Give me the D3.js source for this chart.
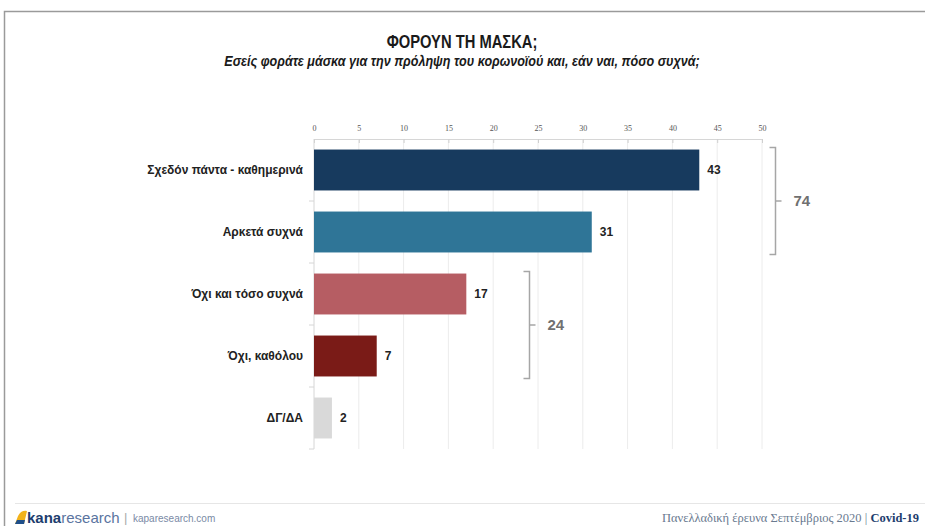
<!DOCTYPE html>
<html>
<head>
<meta charset="utf-8">
<script src="https://cdn.jsdelivr.net/npm/d3@7"></script>
<style>
  html, body { margin: 0; padding: 0; background: #fff; }
  svg { display: block; }
</style>
</head>
<body>
<div id="chart"></div>
<script>
// Mask usage — horizontal bar chart
const categories = ['Σχεδόν πάντα - καθημερινά', 'Αρκετά συχνά', 'Όχι και τόσο συχνά', 'Όχι, καθόλου', 'ΔΓ/ΔΑ'];
const values = [43, 31, 17, 7, 2];
const barColors = ['#173a5e', '#2f7597', '#b65d63', '#7a1b17', '#d9d9d9'];
const xTicks = [0, 5, 10, 15, 20, 25, 30, 35, 40, 45, 50];
// bracket groups: first/last category index and the group total
const groups = [
  {from: 0, to: 1, total: 74, at: 51.5},
  {from: 2, to: 3, total: 24, at: 24}
];
const title = 'ΦΟΡΟΥΝ ΤΗ ΜΑΣΚΑ;';
const subtitle = 'Εσείς φοράτε μάσκα για την πρόληψη του κορωνοϊού και, εάν ναι, πόσο συχνά;';
const footerRight = 'Πανελλαδική έρευνα Σεπτέμβριος 2020';

(function(){
  const width = 925, height = 526;
  const svg = d3.select('#chart').append('svg')
    .attr('width', width)
    .attr('height', height);

  const sans = '"Liberation Sans", Arial, sans-serif';
  const serif = '"Liberation Serif", "DejaVu Serif", serif';

  // frame
  svg.append('path')
    .attr('d', `M4.5,${height} L4.5,11.5 L${width},11.5`)
    .attr('fill', 'none')
    .attr('stroke', '#9a9a9a')
    .attr('stroke-width', 1.5);

  // titles (condensed look via horizontal scale)
  svg.append('text')
    .attr('transform', 'translate(462,48) scale(0.82,1)')
    .attr('text-anchor', 'middle')
    .attr('font-family', sans)
    .attr('font-weight', 'bold')
    .attr('font-size', '18px')
    .attr('fill', '#1a1a1a')
    .text(title);
  svg.append('text')
    .attr('transform', 'translate(462,66) scale(0.9,1)')
    .attr('text-anchor', 'middle')
    .attr('font-family', sans)
    .attr('font-weight', 'bold')
    .attr('font-style', 'italic')
    .attr('font-size', '14px')
    .attr('fill', '#1a1a1a')
    .text(subtitle);

  const left = 314, right = 762, top = 139, bottom = 449;
  const x = d3.scaleLinear().domain([0, 50]).range([left, right]);
  const y = d3.scaleBand().domain(categories).range([top, bottom])
    .paddingInner(0.34).paddingOuter(0.17);

  // gridlines
  svg.append('g')
    .selectAll('line')
    .data(xTicks.slice(1))
    .join('line')
    .attr('x1', d => x(d)).attr('x2', d => x(d))
    .attr('y1', top).attr('y2', bottom)
    .attr('stroke', '#ececec');

  // top axis
  const xAxis = svg.append('g')
    .attr('transform', `translate(0,${top})`)
    .call(d3.axisTop(x).tickValues(xTicks).tickSize(-4).tickPadding(8));
  xAxis.select('.domain').attr('stroke', '#d6d6d6');
  xAxis.selectAll('.tick line').attr('stroke', '#cfcfcf');
  xAxis.selectAll('.tick text')
    .attr('font-family', serif)
    .attr('font-size', '8px')
    .attr('fill', '#555');

  // left axis with band boundary ticks
  const yAxisG = svg.append('g');
  yAxisG.append('line')
    .attr('x1', left).attr('x2', left)
    .attr('y1', top).attr('y2', bottom)
    .attr('stroke', '#d6d6d6');
  const bounds = d3.range(1, categories.length + 1).map(i => top + i * y.step());
  yAxisG.selectAll('line.bt')
    .data(bounds)
    .join('line')
    .attr('class', 'bt')
    .attr('x1', left - 5).attr('x2', left)
    .attr('y1', d => d).attr('y2', d => d)
    .attr('stroke', '#d6d6d6');

  // bars
  svg.append('g')
    .selectAll('rect')
    .data(values)
    .join('rect')
    .attr('x', x(0))
    .attr('y', (d, i) => y(categories[i]))
    .attr('width', d => x(d) - x(0))
    .attr('height', y.bandwidth())
    .attr('fill', (d, i) => barColors[i]);

  // value labels
  svg.append('g')
    .selectAll('text')
    .data(values)
    .join('text')
    .attr('x', d => x(d) + 8)
    .attr('y', (d, i) => y(categories[i]) + y.bandwidth() / 2)
    .attr('dy', '0.35em')
    .attr('font-family', sans)
    .attr('font-weight', 'bold')
    .attr('font-size', '12px')
    .attr('fill', '#222')
    .text(d => d);

  // category labels
  svg.append('g')
    .selectAll('text')
    .data(categories)
    .join('text')
    .attr('x', left - 11)
    .attr('y', d => y(d) + y.bandwidth() / 2)
    .attr('dy', '0.35em')
    .attr('text-anchor', 'end')
    .attr('font-family', sans)
    .attr('font-weight', 'bold')
    .attr('font-size', '12px')
    .attr('fill', '#222')
    .text(d => d);

  // brackets
  groups.forEach(g => {
    const bx = Math.round(x(g.at)) + 0.5;
    const y0 = y(categories[g.from]) - 2;
    const y1 = y(categories[g.to]) + y.bandwidth() + 2;
    const ym = (y0 + y1) / 2;
    svg.append('path')
      .attr('d', `M${bx - 6},${y0} L${bx},${y0} L${bx},${y1} L${bx - 6},${y1} M${bx},${ym} L${bx + 6},${ym}`)
      .attr('fill', 'none')
      .attr('stroke', '#a6a6a6')
      .attr('stroke-width', 1.5);
    svg.append('text')
      .attr('x', bx + 18)
      .attr('y', ym)
      .attr('dy', '0.35em')
      .attr('font-family', sans)
      .attr('font-weight', 'bold')
      .attr('font-size', '15px')
      .attr('fill', '#707070')
      .text(g.total);
  });

  // footer
  svg.append('line')
    .attr('x1', 15).attr('x2', width)
    .attr('y1', 503.5).attr('y2', 503.5)
    .attr('stroke', '#e6e6e6');

  const logo = svg.append('g').attr('transform', 'translate(15,510)');
  logo.append('path').attr('d', 'M0,14 L3,6 Q6,0 12,1 L9,14 Z').attr('fill', '#f2b21b');
  logo.append('path').attr('d', 'M0,14 L2,10 L10,10 L9,14 Z').attr('fill', '#1f4f8a');
  const lt = logo.append('text')
    .attr('x', 12).attr('y', 13)
    .attr('font-family', sans)
    .attr('font-size', '15px')
    .attr('fill', '#1d3d6e');
  lt.append('tspan').attr('font-weight', 'bold').text('kana');
  lt.append('tspan').attr('fill', '#5a74a0').text('research');
  logo.append('text')
    .attr('x', 109).attr('y', 12)
    .attr('font-family', sans)
    .attr('font-size', '13px')
    .attr('fill', '#aaa')
    .text('|');
  logo.append('text')
    .attr('x', 118).attr('y', 12)
    .attr('font-family', sans)
    .attr('font-size', '10px')
    .attr('fill', '#7a8aa5')
    .text('kaparesearch.com');

  const fr = svg.append('text')
    .attr('x', 919).attr('y', 522)
    .attr('text-anchor', 'end')
    .attr('font-family', serif)
    .attr('font-size', '12.5px')
    .attr('fill', '#6a7a90');
  fr.append('tspan').text(footerRight + ' | ');
  fr.append('tspan').attr('font-weight', 'bold').attr('fill', '#1d3d6e').text('Covid-19');
})();
</script>
</body>
</html>
